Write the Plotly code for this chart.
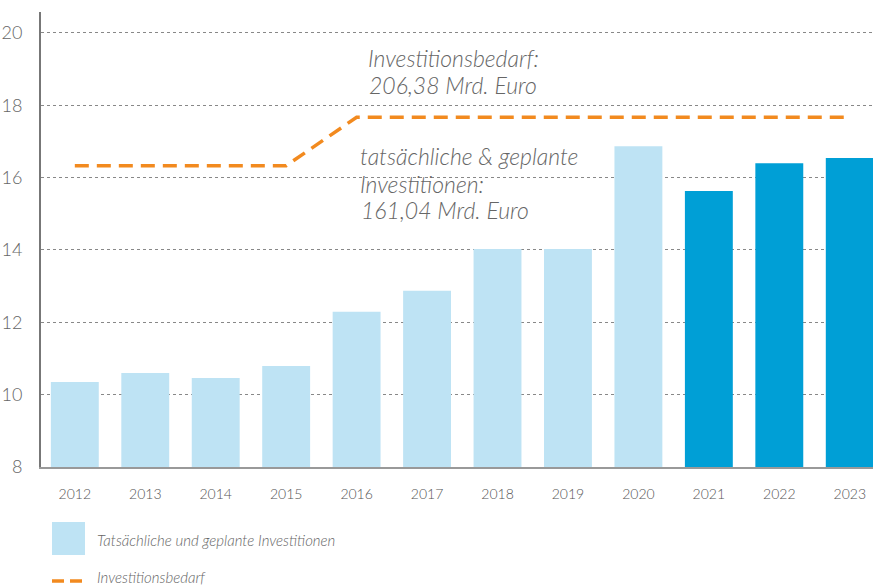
import plotly.graph_objects as go

years = ["2012", "2013", "2014", "2015", "2016", "2017", "2018", "2019", "2020", "2021", "2022", "2023"]
investitionen = [10.35, 10.6, 10.46, 10.79, 12.29, 12.87, 14.03, 14.03, 16.87, 15.63, 16.4, 16.54]
bar_colors = ["#BEE3F4"] * 9 + ["#009FD6"] * 3
bedarf = [16.33, 16.33, 16.33, 16.33, 17.67, 17.67, 17.67, 17.67, 17.67, 17.67, 17.67, 17.67]
y_ticks = [8, 10, 12, 14, 16, 18, 20]

ORANGE = "#F28A1F"
TXT = "#666666"
FONT = "Lato"

W, H = 873, 588
ML, MT, MB = 41, 12, 121
PW, PH = W - ML, H - MT - MB


def px_x(x):
    return (x - ML) / PW


def px_y(y):
    return 1 - (y - MT) / PH


fig = go.Figure()
fig.add_trace(go.Bar(x=years, y=investitionen, marker=dict(color=bar_colors, line=dict(width=0)),
                     width=0.68, showlegend=False, hoverinfo="x+y"))
fig.add_trace(go.Scatter(x=years, y=bedarf, mode="lines", showlegend=False,
                         line=dict(color=ORANGE, width=3.5, dash="14px,8px")))

fig.update_layout(
    width=W, height=H,
    margin=dict(l=ML, r=0, t=MT, b=MB, autoexpand=False),
    paper_bgcolor="white", plot_bgcolor="white",
    font=dict(family=FONT, color=TXT),
    xaxis=dict(type="category", range=[-0.48, 11.33], showgrid=False, showline=True, automargin=False,
               linecolor="#999999", linewidth=2, ticks="", ticklabelstandoff=13,
               tickfont=dict(size=14, color="#555555", family=FONT, weight=300)),
    yaxis=dict(range=[8, 20.58], tickvals=y_ticks, showgrid=True, gridcolor="#888888", automargin=False,
               griddash="dot", gridwidth=1, showline=True, linecolor="#777777", linewidth=2,
               zeroline=False, ticks="", ticklabelstandoff=13,
               tickfont=dict(size=18, color=TXT, family=FONT, weight=300)),
)

note_lines = [
    ("Investitionsbedarf:", 366, 58),
    ("206,38 Mrd. Euro", 367, 85),
    ("tatsächliche &amp; geplante", 358, 156),
    ("Investitionen:", 358, 184),
    ("161,04 Mrd. Euro", 359, 210),
]
for txt, lx, cy in note_lines:
    fig.add_annotation(xref="paper", yref="paper", x=px_x(lx), y=px_y(cy),
                       xanchor="left", yanchor="middle", align="left", showarrow=False,
                       text="<i>" + txt + "</i>",
                       font=dict(size=23, color=TXT, family=FONT, weight=300))

# legend
fig.add_shape(type="rect", xref="paper", yref="paper",
              x0=px_x(52), x1=px_x(85), y0=px_y(555), y1=px_y(522),
              fillcolor="#BEE3F4", line=dict(width=0))
fig.add_annotation(xref="paper", yref="paper", x=px_x(95), y=px_y(540),
                   xanchor="left", yanchor="middle", showarrow=False,
                   text="<i>Tatsächliche und geplante Investitionen</i>",
                   font=dict(size=15, color=TXT, family=FONT, weight=300))
fig.add_shape(type="line", xref="paper", yref="paper",
              x0=px_x(52), x1=px_x(85), y0=px_y(581), y1=px_y(581),
              line=dict(color=ORANGE, width=3.5, dash="12px,6px"))
fig.add_annotation(xref="paper", yref="paper", x=px_x(95), y=px_y(577),
                   xanchor="left", yanchor="middle", showarrow=False,
                   text="<i>Investitionsbedarf</i>",
                   font=dict(size=15, color=TXT, family=FONT, weight=300))

fig.write_html("out.html", config={"displayModeBar": False},
               post_script="document.body.style.margin='0';document.body.style.overflow='hidden';")
